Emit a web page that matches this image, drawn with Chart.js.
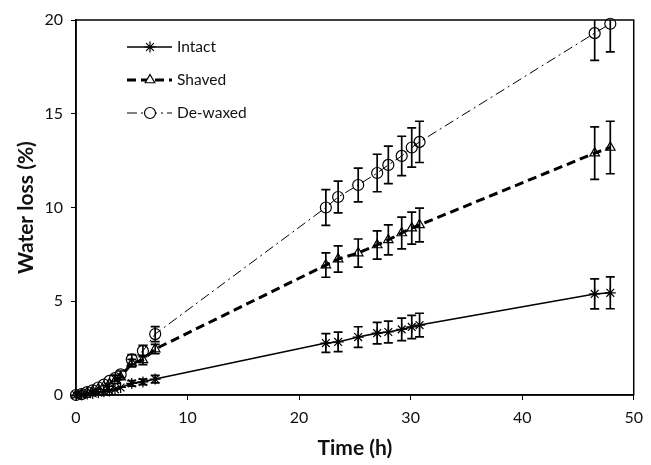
<!DOCTYPE html>
<html>
<head>
<meta charset="utf-8">
<script src="https://cdn.jsdelivr.net/npm/chart.js@4.4.1/dist/chart.umd.min.js"></script>
<style>
  html, body { margin: 0; padding: 0; background: #fff; }
  #wrap { width: 651px; height: 465px; position: relative; }
</style>
</head>
<body>
<div id="wrap"><canvas id="chart" width="651" height="465"></canvas></div>
<script>
const times = [0, 0.5, 1, 1.5, 2, 2.5, 3, 3.5, 4, 5, 6, 7.1, 22.4, 23.5, 25.3, 27, 28, 29.2, 30.1, 30.8, 46.5, 47.9];

const intact = [0, 0.02, 0.05, 0.08, 0.12, 0.17, 0.22, 0.3, 0.4, 0.62, 0.7, 0.85, 2.77, 2.83, 3.09, 3.3, 3.36, 3.5, 3.63, 3.73, 5.39, 5.45];
const intactErr = [0.02, 0.03, 0.04, 0.05, 0.06, 0.07, 0.08, 0.09, 0.1, 0.15, 0.15, 0.2, 0.5, 0.52, 0.55, 0.57, 0.58, 0.6, 0.62, 0.63, 0.8, 0.85];

const shaved = [0, 0.04, 0.12, 0.2, 0.33, 0.45, 0.6, 0.75, 0.95, 1.7, 1.87, 2.45, 6.93, 7.25, 7.57, 8.0, 8.27, 8.64, 8.9, 9.07, 12.9, 13.2];
const shavedErr = [0.02, 0.04, 0.05, 0.06, 0.07, 0.08, 0.1, 0.12, 0.14, 0.2, 0.25, 0.25, 0.65, 0.7, 0.75, 0.75, 0.8, 0.85, 0.85, 0.9, 1.4, 1.4];

const dewaxed = [0, 0.05, 0.15, 0.25, 0.4, 0.55, 0.75, 0.9, 1.1, 1.9, 2.35, 3.25, 10.0, 10.56, 11.2, 11.84, 12.27, 12.75, 13.2, 13.5, 19.3, 19.8];
const dewaxedErr = [0.03, 0.05, 0.06, 0.08, 0.1, 0.12, 0.14, 0.16, 0.18, 0.25, 0.3, 0.4, 0.95, 0.85, 0.9, 1.0, 1.0, 1.05, 1.05, 1.1, 1.45, 1.5];

const seriesLabels = ['Intact', 'Shaved', 'De-waxed'];
const xTicks = [0, 10, 20, 30, 40, 50];
const yTicks = [0, 5, 10, 15, 20];

const FONT = 'Lato, "Open Sans", sans-serif';

function pts(vals){ return times.map((t, i) => ({ x: t, y: vals[i] })); }

// error bars + frame + custom legend
const extras = {
  id: 'extras',
  afterDatasetsDraw(chart){
    const ctx = chart.ctx, xs = chart.scales.x, ys = chart.scales.y, a = chart.chartArea;
    ctx.save();
    ctx.beginPath();
    ctx.rect(a.left - 10, a.top, a.right - a.left + 20, a.bottom - a.top + 10);
    ctx.clip();
    ctx.strokeStyle = '#000';
    ctx.lineWidth = 1.7;
    chart.data.datasets.forEach(ds => {
      ds.data.forEach((p, i) => {
        const e = ds.err[i];
        if (e < 0.15) return;
        const px = xs.getPixelForValue(p.x);
        const y1 = ys.getPixelForValue(p.y + e), y2 = ys.getPixelForValue(p.y - e);
        ctx.beginPath();
        ctx.moveTo(px, y1); ctx.lineTo(px, y2);
        ctx.moveTo(px - 4.5, y1); ctx.lineTo(px + 4.5, y1);
        ctx.moveTo(px - 4.5, y2); ctx.lineTo(px + 4.5, y2);
        ctx.stroke();
      });
    });
    ctx.restore();
  },
  afterDraw(chart){
    const ctx = chart.ctx, a = chart.chartArea;
    ctx.save();
    ctx.strokeStyle = '#000';
    ctx.lineWidth = 1.5;
    ctx.strokeRect(a.left, a.top, a.right - a.left, a.bottom - a.top);
    // legend
    chart.data.datasets.forEach((ds, i) => {
      const y = 47 + i * 33;
      ctx.beginPath();
      ctx.setLineDash(ds.borderDash || []);
      ctx.lineWidth = ds.borderWidth;
      ctx.strokeStyle = '#000';
      ctx.moveTo(127, y); ctx.lineTo(172, y);
      ctx.stroke();
      ctx.setLineDash([]);
      ctx.fillStyle = '#fff';
      ctx.lineWidth = 1.2;
      Chart.helpers.drawPoint(ctx, {
        pointStyle: ds.pointStyle, radius: ds.pointRadius, borderWidth: 1.2, rotation: 0
      }, 150, y);
      ctx.fillStyle = '#111';
      ctx.font = '15.5px ' + FONT;
      ctx.textBaseline = 'middle';
      ctx.fillText(ds.label, 177, y);
    });
    ctx.restore();
  }
};

const common = { borderColor: '#000', pointBorderColor: '#000', pointBackgroundColor: 'rgba(255,255,255,0)', pointBorderWidth: 1.2, clip: 10, fill: false, tension: 0 };

new Chart(document.getElementById('chart'), {
  type: 'line',
  data: {
    datasets: [
      Object.assign({}, common, { label: seriesLabels[0], data: pts(intact), err: intactErr, borderWidth: 1.6, pointStyle: 'star', pointRadius: 5.5 }),
      Object.assign({}, common, { label: seriesLabels[1], data: pts(shaved), err: shavedErr, borderWidth: 3, borderDash: [9, 5], pointStyle: 'triangle', pointRadius: 5.5 }),
      Object.assign({}, common, { label: seriesLabels[2], data: pts(dewaxed), err: dewaxedErr, borderWidth: 1, borderDash: [10, 4, 2, 4], pointStyle: 'circle', pointRadius: 5.5 })
    ]
  },
  options: {
    responsive: false,
    animation: false,
    devicePixelRatio: 1,
    layout: { padding: { top: 20, right: 9, left: 0, bottom: 0 } },
    plugins: { legend: { display: false }, tooltip: { enabled: false } },
    scales: {
      x: {
        type: 'linear', min: 0, max: 50,
        afterBuildTicks: s => { s.ticks = xTicks.map(v => ({ value: v })); },
        afterFit: s => { s.height = 70; },
        grid: { drawOnChartArea: false, color: '#000', tickLength: 5 },
        border: { color: '#000', width: 1.5 },
        ticks: { color: '#111', font: { family: FONT, size: 16 }, padding: 8, maxRotation: 0 },
        title: { display: true, text: 'Time (h)', color: '#111', font: { family: FONT, size: 21, weight: 'bold' }, padding: { top: 4, bottom: 4 } }
      },
      y: {
        type: 'linear', min: 0, max: 20,
        afterBuildTicks: s => { s.ticks = yTicks.map(v => ({ value: v })); },
        afterFit: s => { s.width = 76; },
        grid: { drawOnChartArea: false, color: '#000', tickLength: 5 },
        border: { color: '#000', width: 1.5 },
        ticks: { color: '#111', font: { family: FONT, size: 16 }, padding: 8 },
        title: { display: true, text: 'Water loss (%)', color: '#111', font: { family: FONT, size: 21, weight: 'bold' }, padding: { top: 14, bottom: 0 } }
      }
    }
  },
  plugins: [extras]
});
</script>
</body>
</html>
